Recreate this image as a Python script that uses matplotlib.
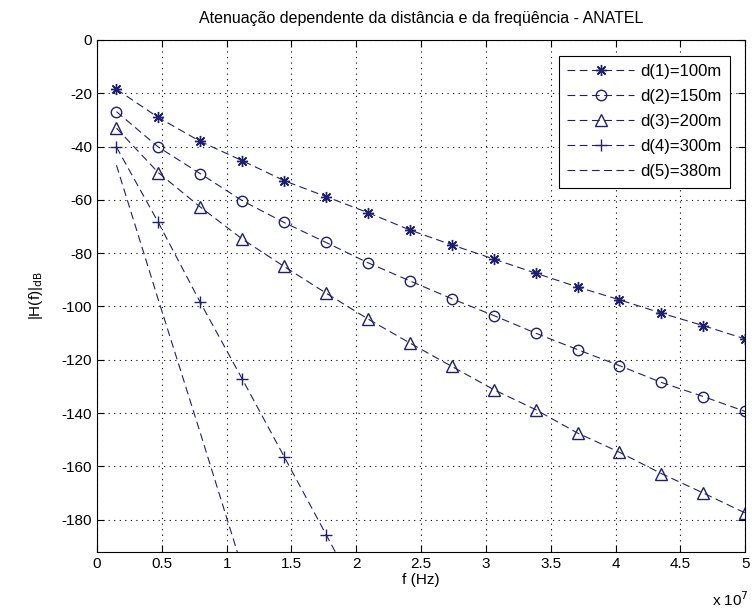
import matplotlib
matplotlib.use("Agg")
import matplotlib.pyplot as plt

plt.rcParams['font.family'] = ['Liberation Sans', 'DejaVu Sans']
plt.rcParams['axes.unicode_minus'] = False

# frequency points (Hz)
f = [0.15e7, 0.473e7, 0.797e7, 1.12e7, 1.443e7, 1.767e7, 2.09e7, 2.413e7,
     2.737e7, 3.06e7, 3.383e7, 3.707e7, 4.03e7, 4.353e7, 4.677e7, 5.0e7]

# attenuation in dB
h_100 = [-18.5, -29.1, -38.1, -45.3, -52.8, -58.8, -64.8, -71.3,
         -76.9, -82.2, -87.5, -92.7, -97.5, -102.5, -107.2, -112.2]
h_150 = [-26.9, -40.2, -50.2, -60.3, -68.5, -76.0, -83.6, -90.4,
         -97.1, -103.4, -110.0, -116.2, -122.2, -128.5, -133.8, -139.4]
h_200 = [-33.1, -49.8, -62.7, -74.7, -85.0, -95.0, -104.7, -113.7,
         -122.5, -131.2, -138.7, -147.5, -154.7, -162.7, -170.0, -177.5]
h_300 = [-40.2, -68.5, -98.5, -127.2, -156.3, -185.6, -215.0]
h_380 = [-47.0, -97.5, -147.5, -198.0, -248.0]

labels = ['d(1)=100m', 'd(2)=150m', 'd(3)=200m', 'd(4)=300m', 'd(5)=380m']
series = [h_100, h_150, h_200, h_300, h_380]
markers = [(8, 2, 0), 'o', '^', '+', None]
msizes = [8, 7.5, 8.5, 9, 0]

col = '#1f1f78'

fig = plt.figure(figsize=(7.52, 6.14), dpi=100)
ax = fig.add_axes([0.129, 0.1015, 0.862, 0.8335])

for y, lab, m, ms in zip(series, labels, markers, msizes):
    ax.plot(f[:len(y)], y, color=col, lw=0.8, linestyle=(0, (7, 4)),
            marker=m, markersize=ms, markerfacecolor='none',
            markeredgecolor=col, markeredgewidth=1.0, label=lab)

ax.set_xlim(0, 5e7)
ax.set_ylim(-192, 0)
xt = [i * 0.5e7 for i in range(11)]
ax.set_xticks(xt)
ax.set_xticklabels([f"{t / 1e7:g}" for t in xt])
ax.set_yticks(range(-180, 1, 20))

ax.grid(True, linestyle=(0, (1, 4)), color='black', lw=0.8)
ax.tick_params(direction='in', top=True, right=True, length=5, width=0.8,
               labelsize=11, colors='black')
for s in ax.spines.values():
    s.set_linewidth(0.8)

ax.set_title('Atenuação dependente da distância e da freqüência - ANATEL',
             fontsize=11.5, pad=12)
ax.set_xlabel('f (Hz)', fontsize=11, labelpad=2)
ax.set_ylabel(r'|H(f)|$_{\mathrm{dB}}$', fontsize=11, labelpad=12)
ax.text(1.005, -0.075, r'x 10$^{7}$', transform=ax.transAxes,
        ha='right', va='top', fontsize=11)

leg = ax.legend(loc='upper right', fontsize=12, handlelength=4.0,
                labelspacing=0.6, borderpad=0.5, handletextpad=0.4,
                fancybox=False, framealpha=1, edgecolor='black',
                bbox_to_anchor=(0.99, 0.985))
leg.get_frame().set_linewidth(0.8)

fig.savefig('out.png', dpi=100)
